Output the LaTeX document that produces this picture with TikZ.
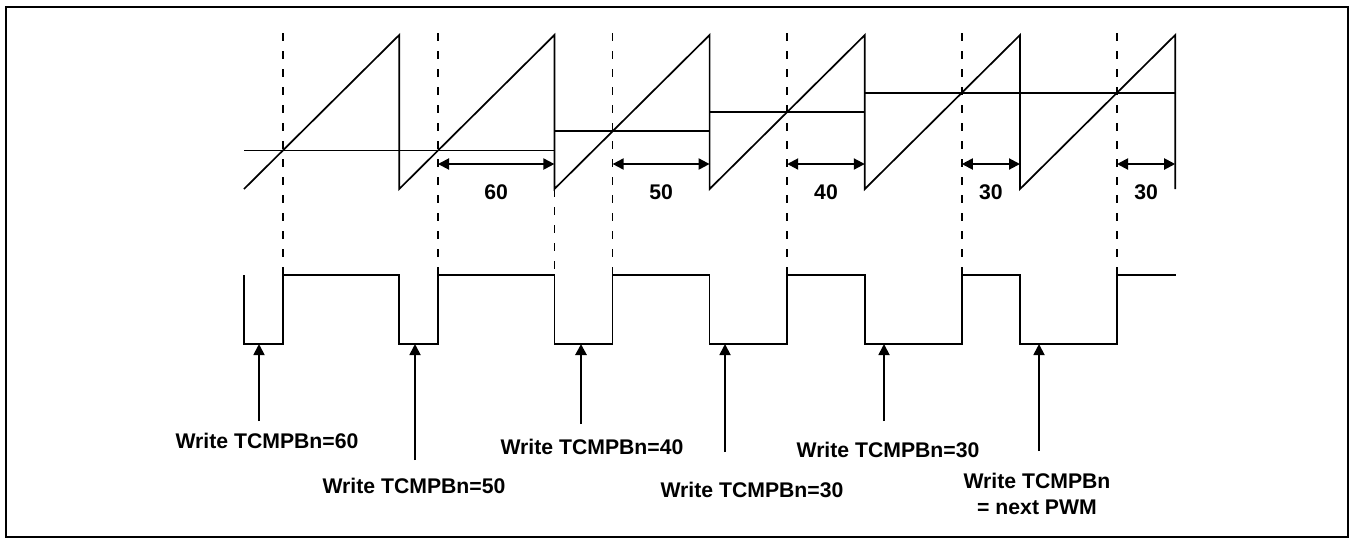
\documentclass[tikz,border=0pt]{standalone}
\usepackage{fontspec}
\setmainfont{Liberation Sans}
\usetikzlibrary{arrows.meta,positioning}

\begin{document}
\begin{tikzpicture}[
  x=0.5pt, y=-0.5pt,
  every node/.style={font=\fontsize{10.6}{13}\selectfont\bfseries, align=center, inner sep=0pt},
  wave/.style={line width=0.85pt, line join=miter},
  guide/.style={line width=0.8pt, dash pattern=on 4pt off 5pt},
  dim/.style={line width=1pt, {Triangle[length=5.5pt,width=5.5pt]}-{Triangle[length=5.5pt,width=5.5pt]}},
  up/.style={line width=0.9pt, -{Triangle[length=5.5pt,width=5.5pt]}},
  >=Stealth
]
\useasboundingbox (0,0) rectangle (1353,538);
\draw[line width=1.2pt] (6,7) rectangle (1348,537);

\coordinate (top) at (0,33);
\coordinate (hi) at (0,275);
\coordinate (dimy) at (0,164);

\foreach \n/\x/\y in {1/282.8/150.5, 2/438/150.5, 3/612.6/131.25, 4/787.2/112, 5/961.8/92.75, 6/1117/92.75}
  \coordinate (c\n) at (\x,\y);
\foreach \n/\x in {1/399.2, 2/554.4, 3/709.6, 4/864.8, 5/1020, 6/1175.2}
  \coordinate (f\n) at (\x,189);

\draw[wave] (244,189) -- (399.2,35) -- (f1) -- (554.4,35) -- (f2) -- (709.6,35) -- (f3)
  -- (864.8,35) -- (f4) -- (1020,35) -- (f5) -- (1175.2,35) -- (f6);

\draw[wave] (244,150.5) -- (554.4,150.5);
\draw[wave] (554.4,131.25) -- (709.6,131.25);
\draw[wave] (709.6,112) -- (864.8,112);
\draw[wave] (864.8,92.75) -- (1175.2,92.75);

\draw[wave] (244,275) -- (244,344) -- (282.8,344) -- (282.8,275) -- (399.2,275) -- (399.2,344)
  -- (438,344) -- (438,275) -- (554.4,275) -- (554.4,344) -- (612.6,344) -- (612.6,275)
  -- (709.6,275) -- (709.6,344) -- (787.2,344) -- (787.2,275) -- (864.8,275) -- (864.8,344)
  -- (961.8,344) -- (961.8,275) -- (1020,275) -- (1020,344) -- (1117,344) -- (1117,275)
  -- (1176,275);

\foreach \n in {1,...,6}
  \draw[guide] (c\n |- top) -- (c\n |- hi);
\draw[guide] (f2) -- (f2 |- hi);

\foreach \n/\v in {2/60, 3/50, 4/40, 5/30, 6/30}
  \draw[dim] (c\n |- dimy) -- node[midway, below=10pt] (d\n) {\v} (f\n |- dimy);

\foreach \n/\x/\yb in {1/259/421, 2/415/460, 4/725/452, 5/884/421, 6/1039/451} {
  \coordinate (w\n) at (\x,344);
  \coordinate (b\n) at (\x,\yb);
  \draw[up] (b\n) -- (w\n);
}
\coordinate (w3) at (581,344);
\coordinate (b3) at (581,424);
\draw[up, line width=1.4pt] (b3) -- (w3);

\node (l1) at (267,441) {Write TCMPBn=60};
\node (l2) at (414,486) {Write TCMPBn=50};
\node (l3) at (592,447) {Write TCMPBn=40};
\node (l4) at (752,490) {Write TCMPBn=30};
\node (l5) at (888,450) {Write TCMPBn=30};
\node (l6) at (1037,494) {Write TCMPBn\\= next PWM};
\end{tikzpicture}
\end{document}
